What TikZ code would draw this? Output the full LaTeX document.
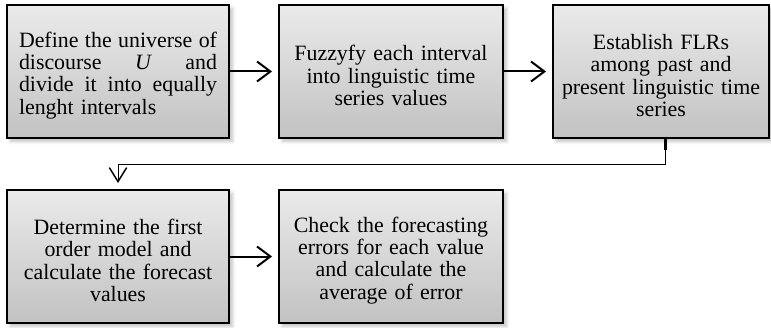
\documentclass[tikz,border=0pt]{standalone}
\usepackage{fontspec}
\setmainfont{Liberation Serif}
\usetikzlibrary{arrows.meta,shadows.blur}

\tikzset{every picture/.style={line width=0.75pt}}
\tikzset{
	procbox/.style={draw=black, line width=1.5pt, top color=gray!16, bottom color=gray!48,
		inner sep=0pt, minimum height=99.75pt, align=center,
		font=\fontsize{16.4pt}{16.7pt}\selectfont,
		execute at begin node={\rule{0pt}{17.5pt}},
		blur shadow={shadow xshift=2.5pt, shadow yshift=-2.5pt, shadow blur radius=2.5pt, shadow opacity=25}},
	flowarrow/.style={line width=1.5pt, -{Straight Barb[length=10pt,width=15pt,line width=1.5pt]}, shorten >=4.5pt},
	backarrow/.style={line width=0.75pt, -{Straight Barb[length=10.5pt,width=13pt,line width=1.1pt]}, shorten >=4.5pt}
}
\newcommand{\jline}[1]{\leavevmode\hbox to 148.5pt{#1}}

\begin{document}
\begin{tikzpicture}[x=0.75pt,y=0.75pt,yscale=-1,xscale=1]
	\useasboundingbox (0,0) rectangle (771,328);
	
	%Shape: Rectangle 
	\node [procbox, minimum width=166.5pt, text width=148.5pt, align=left] (universe) at (118,71.5)
		{\jline{Define\hfill the\hfill universe\hfill of}\\\jline{discourse\hfill \emph{U}\hfill and}\\\jline{divide\hfill it\hfill into\hfill equally}\\lenght intervals};
	%Shape: Rectangle 
	\node [procbox, minimum width=168pt, text width=156pt] (fuzzify) at (391,71.5)
		{Fuzzyfy each interval\\into linguistic time\\series values};
	%Shape: Rectangle 
	\node [procbox, minimum width=162pt, text width=150pt] (flrs) at (661,71.5)
		{Establish FLRs\\among past and\\present linguistic time\\series};
	%Shape: Rectangle 
	\node [procbox, minimum width=166.5pt, text width=154pt] (model) at (118,256.5)
		{Determine the first\\order model and\\calculate the forecast\\values};
	%Shape: Rectangle 
	\node [procbox, minimum width=168pt, text width=156pt] (errors) at (391,256.5)
		{Check the forecasting\\errors for each value\\and calculate the\\average of error};
	
	%Straight Lines 
	\draw [flowarrow] (universe) -- (fuzzify) ;
	%Straight Lines 
	\draw [flowarrow] (fuzzify) -- (flrs) ;
	%Straight Lines 
	\draw [flowarrow] (model) -- (errors) ;
	
	\coordinate (stubend) at (665,150) ;
	\coordinate (turn) at (665,164) ;
	%Straight Lines 
	\draw [line width=2.25]  (flrs.south -| stubend) -- (stubend) ;
	%Straight Lines 
	\draw [backarrow]  (stubend) -- (turn) -- (turn -| model.north) -- (model.north) ;
	
\end{tikzpicture}
\end{document}
